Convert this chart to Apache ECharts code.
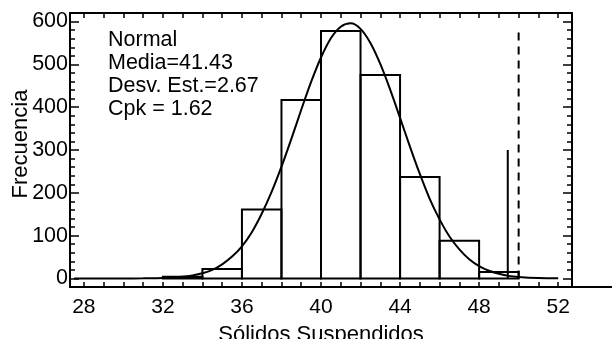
<!DOCTYPE html>
<html>
<head>
<meta charset="utf-8" />
<title>Histograma Sólidos Suspendidos</title>
<script src="https://cdn.jsdelivr.net/npm/echarts@6/dist/echarts.min.js"></script>
<style>
  html, body { margin: 0; padding: 0; background: #fff; }
  #chart { width: 612px; height: 339px; }
</style>
</head>
<body>
<div id="chart"></div>
<script type="text/javascript">
// histogram bins
var binStart = [32, 34, 36, 38, 40, 42, 44, 46, 48];
var binEnd   = [34, 36, 38, 40, 42, 44, 46, 48, 50];
var binCount = [4, 22, 161, 417, 578, 475, 237, 88, 15];

// fitted normal curve
var curveX = [27.5, 28, 30, 31, 32, 33, 33.5, 34, 34.5, 35, 35.5, 36, 36.5, 37, 37.5, 38, 38.5, 39, 39.5,
              40, 40.5, 41, 41.5, 42, 42.5, 43, 43.5, 44, 44.5, 45, 45.5, 46, 46.5, 47, 47.5, 48, 48.5,
              49, 49.5, 50, 51, 52];
var curveY = [0, 0, 0, 0.4, 1.2, 4, 7, 12, 20, 33, 51, 75, 108, 151, 202, 261, 326, 394, 459,
              516, 561, 588, 596, 583, 550, 501, 441, 375, 308, 244, 186, 138, 98, 68, 45, 29, 18,
              11, 6, 3.5, 1, 0.2];

// reference lines
var solidLineX = 49.45, solidLineTop = 300;
var dashLineX = 50, dashLineTop = 586;

// axis ticks / labels
var xTickVals = [28, 29, 30, 31, 32, 33, 34, 35, 36, 37, 38, 39, 40, 41, 42, 43, 44, 45, 46, 47, 48, 49, 50, 51, 52];
var xLabelVals = [28, 32, 36, 40, 44, 48, 52];
var yLabelVals = [0, 100, 200, 300, 400, 500, 600];
var yMinorVals = [0, 20, 40, 60, 80, 100, 120, 140, 160, 180, 200, 220, 240, 260, 280, 300, 320, 340, 360,
                  380, 400, 420, 440, 460, 480, 500, 520, 540, 560, 580, 600];

var statsLines = ['Normal', 'Media=41.43', 'Desv. Est.=2.67', 'Cpk = 1.62'];

var FONT = 'Liberation Sans, Arial, Helvetica, sans-serif';
var myChart = echarts.init(document.getElementById('chart'), null, { renderer: 'canvas' });

var lineBlack = { color: '#000', width: 2 };

var option = {
    animation: false,
    backgroundColor: '#fff',
    textStyle: { fontFamily: FONT, color: '#000' },
    grid: [
        { left: 70, right: 40, top: 13, bottom: 52, containLabel: false, outerBoundsMode: 'none' },
        { left: 70, right: 0, top: 13, bottom: 52, containLabel: false, outerBoundsMode: 'none' }
    ],
    xAxis: [
        {
            gridIndex: 0, type: 'value', position: 'bottom', min: 27.3, max: 52.7,
            axisLine: { show: true, onZero: false, lineStyle: lineBlack },
            axisTick: { show: true, inside: true, length: 5, customValues: xTickVals, lineStyle: { color: '#000', width: 1.5 } },
            axisLabel: { customValues: xLabelVals, fontSize: 21, color: '#000', margin: 10, fontFamily: FONT },
            splitLine: { show: false },
            name: 'Sólidos Suspendidos', nameLocation: 'middle', nameGap: 37, nameMoveOverlap: false,
            nameTextStyle: { fontSize: 22, color: '#000', fontFamily: FONT }
        },
        {
            gridIndex: 0, type: 'value', position: 'top', min: 27.3, max: 52.7,
            axisLine: { show: true, onZero: false, lineStyle: lineBlack },
            axisTick: { show: true, inside: true, length: 5, customValues: xTickVals, lineStyle: { color: '#000', width: 1.5 } },
            axisLabel: { show: false },
            splitLine: { show: false }
        },
        {
            gridIndex: 1, type: 'value', position: 'bottom', min: 0, max: 1,
            axisLine: { show: true, onZero: false, lineStyle: lineBlack },
            axisTick: { show: false }, axisLabel: { show: false }, splitLine: { show: false }
        }
    ],
    yAxis: [
        {
            gridIndex: 0, type: 'value', position: 'left', min: -20, max: 620,
            axisLine: { show: true, onZero: false, lineStyle: lineBlack },
            axisTick: { show: true, inside: true, length: 9, customValues: yLabelVals, lineStyle: { color: '#000', width: 1.5 } },
            axisLabel: { customValues: yLabelVals, fontSize: 21.5, color: '#000', margin: 2, fontFamily: FONT },
            splitLine: { show: false },
            name: 'Frecuencia', nameLocation: 'middle', nameGap: 38, nameMoveOverlap: false,
            nameTextStyle: { fontSize: 22, color: '#000', fontFamily: FONT, padding: [0, 0, 0, 12] }
        },
        {
            gridIndex: 0, type: 'value', position: 'left', min: -20, max: 620,
            axisLine: { show: false },
            axisTick: { show: true, inside: true, length: 5, customValues: yMinorVals, lineStyle: { color: '#000', width: 1.5 } },
            axisLabel: { show: false }, splitLine: { show: false }
        },
        {
            gridIndex: 0, type: 'value', position: 'right', min: -20, max: 620,
            axisLine: { show: true, onZero: false, lineStyle: lineBlack },
            axisTick: { show: true, inside: true, length: 9, customValues: yLabelVals, lineStyle: { color: '#000', width: 1.5 } },
            axisLabel: { show: false }, splitLine: { show: false }
        },
        {
            gridIndex: 0, type: 'value', position: 'right', min: -20, max: 620,
            axisLine: { show: false },
            axisTick: { show: true, inside: true, length: 5, customValues: yMinorVals, lineStyle: { color: '#000', width: 1.5 } },
            axisLabel: { show: false }, splitLine: { show: false }
        },
        {
            gridIndex: 1, type: 'value', show: false, min: 0, max: 1
        }
    ],
    graphic: [
        {
            type: 'text', left: 108, top: 29, z: 10,
            style: { text: statsLines.join('\n'), font: '21.5px ' + FONT, lineHeight: 23, fill: '#000' }
        }
    ],
    series: [
        {
            type: 'custom', xAxisIndex: 0, yAxisIndex: 0,
            data: binStart.map(function (s, i) { return [s, binEnd[i], binCount[i]]; }),
            encode: { x: [0, 1], y: 2 },
            renderItem: function (params, api) {
                var p0 = api.coord([api.value(0), 0]);
                var p1 = api.coord([api.value(1), api.value(2)]);
                return {
                    type: 'rect',
                    shape: { x: p0[0], y: p1[1], width: p1[0] - p0[0], height: p0[1] - p1[1] },
                    style: { fill: 'none', stroke: '#000', lineWidth: 2 }
                };
            }
        },
        {
            type: 'line', xAxisIndex: 0, yAxisIndex: 0,
            data: curveX.map(function (x, i) { return [x, curveY[i]]; }),
            smooth: 0.3, symbol: 'none',
            lineStyle: { color: '#000', width: 2 }
        },
        {
            type: 'line', xAxisIndex: 0, yAxisIndex: 0,
            data: [[solidLineX, 0], [solidLineX, solidLineTop]],
            symbol: 'none', lineStyle: { color: '#000', width: 2 }
        },
        {
            type: 'line', xAxisIndex: 0, yAxisIndex: 0,
            data: [[dashLineX, 0], [dashLineX, dashLineTop]],
            symbol: 'none', lineStyle: { color: '#000', width: 2, type: [8, 6] }
        }
    ]
};

myChart.setOption(option);
</script>
</body>
</html>
